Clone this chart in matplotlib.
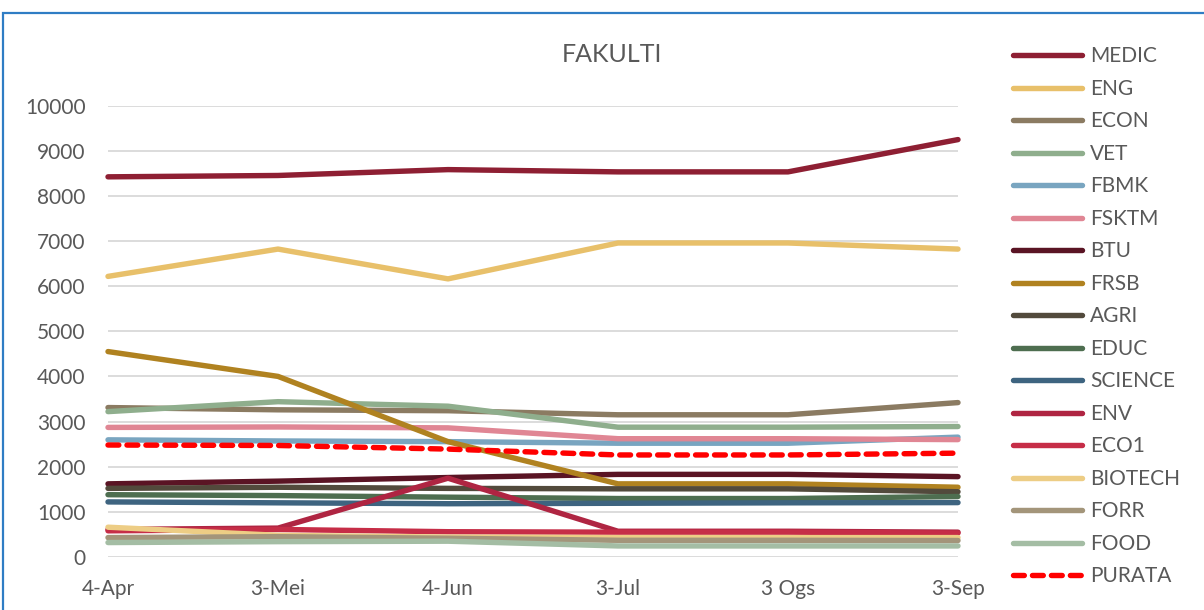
import matplotlib.pyplot as plt
from matplotlib.patches import Rectangle

months = ["4-Apr", "3-Mei", "4-Jun", "3-Jul", "3 Ogs", "3-Sep"]

medic = [8420, 8450, 8580, 8530, 8530, 9245]
eng = [6215, 6820, 6160, 6955, 6955, 6820]
econ = [3310, 3260, 3240, 3150, 3150, 3420]
vet = [3220, 3440, 3340, 2875, 2875, 2890]
fbmk = [2595, 2570, 2555, 2520, 2520, 2655]
fsktm = [2870, 2880, 2860, 2620, 2620, 2600]
btu = [1620, 1680, 1760, 1830, 1830, 1780]
frsb = [4550, 4000, 2555, 1620, 1620, 1545]
agri = [1520, 1545, 1520, 1510, 1510, 1445]
educ = [1380, 1360, 1325, 1295, 1295, 1340]
science = [1220, 1200, 1180, 1190, 1200, 1205]
env = [610, 640, 1745, 570, 570, 550]
eco1 = [580, 610, 560, 550, 550, 530]
biotech = [660, 480, 440, 430, 430, 430]
forr = [430, 450, 415, 370, 370, 365]
food = [320, 340, 350, 245, 245, 245]
purata = [2480, 2470, 2390, 2260, 2260, 2300]

series = [
    ("MEDIC", medic, "#8E1F33"),
    ("ENG", eng, "#E8C06A"),
    ("ECON", econ, "#8B7B62"),
    ("VET", vet, "#8FAE8D"),
    ("FBMK", fbmk, "#79A5C0"),
    ("FSKTM", fsktm, "#E08694"),
    ("BTU", btu, "#5A1424"),
    ("FRSB", frsb, "#B08220"),
    ("AGRI", agri, "#524A3C"),
    ("EDUC", educ, "#4E6E50"),
    ("SCIENCE", science, "#3E6480"),
    ("ENV", env, "#AF2542"),
    ("ECO1", eco1, "#C62D47"),
    ("BIOTECH", biotech, "#EDCD85"),
    ("FORR", forr, "#A3957A"),
    ("FOOD", food, "#A4BDA4"),
]

plt.rcParams['font.family'] = ['Lato', 'DejaVu Sans']
txt = "#595959"

fig = plt.figure(figsize=(12.04, 6.10), dpi=100)
ax = fig.add_axes([108 / 1204, 53 / 610, 850 / 1204, 451.5 / 610])

x = range(len(months))
for name, vals, col in series:
    ax.plot(x, vals, color=col, lw=3.9, label=name, solid_capstyle='round')
ax.plot(x, purata, color="#FF0000", lw=3.9, ls=(0, (2.0, 1.5)), label="PURATA",
        dash_capstyle='round')

ax.set_xlim(0, len(months) - 1)
ax.set_ylim(0, 10000)
ax.set_yticks(range(0, 10001, 1000))
ax.set_xticks(list(x))
ax.set_xticklabels(months)
ax.tick_params(length=0, labelsize=15, colors=txt)
ax.tick_params(axis='x', pad=16)
ax.tick_params(axis='y', pad=16)
ax.grid(axis='y', color="#D9D9D9", lw=1.3)
ax.set_axisbelow(True)
for s in ax.spines.values():
    s.set_visible(False)
for ln in ax.lines:
    ln.set_clip_on(False)

fig.text(612 / 1204, 1 - 55 / 610, "FAKULTI", ha='center', va='center',
         fontsize=18, color=txt)

leg = fig.legend(loc='upper left', bbox_to_anchor=(1005 / 1204, 1 - 38 / 610),
                 frameon=False, fontsize=15, labelcolor=txt, handlelength=3.3,
                 handletextpad=0.4, labelspacing=0.6, borderaxespad=0)

fig.patches.append(Rectangle((3 / 1204, -0.1), 1.2, 1 - 13 / 610 + 0.1,
                             transform=fig.transFigure, fill=False,
                             edgecolor="#2F7DC4", lw=1.6))

fig.savefig("out.png", dpi=100)
